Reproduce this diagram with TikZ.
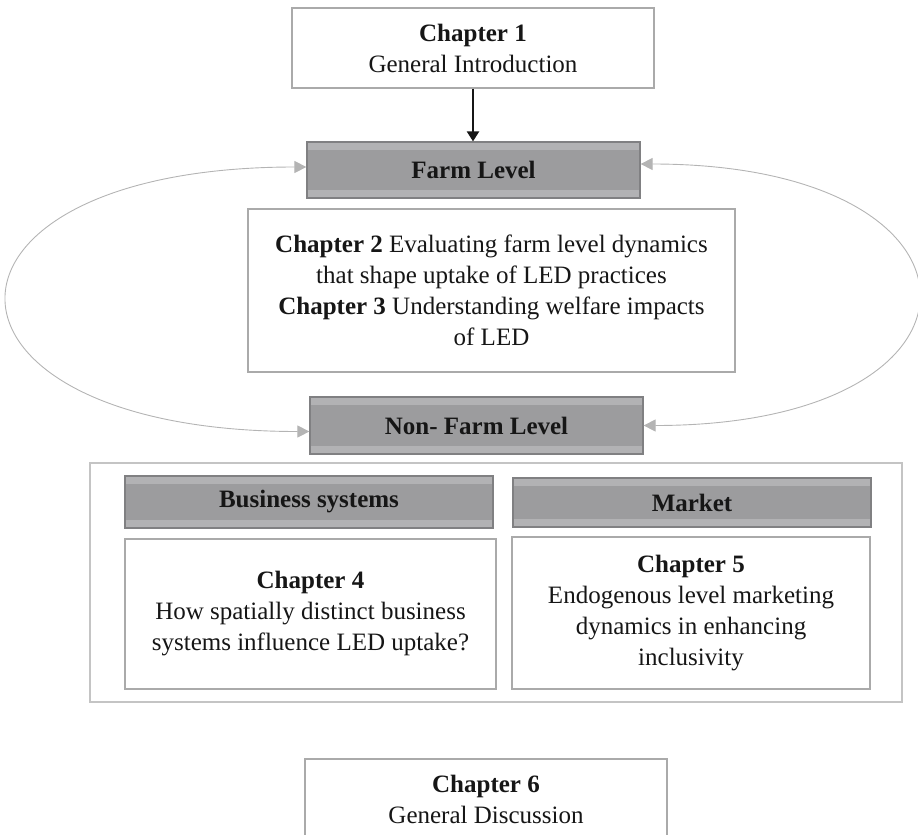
\documentclass[tikz,border=0pt]{standalone}
\usepackage{fontspec}
\setmainfont{Liberation Serif}
\usepackage{xcolor}
\usepackage{tikz}
\usetikzlibrary{arrows.meta}

\definecolor{bandlight}{RGB}{178,178,180}
\definecolor{bandmid}{RGB}{156,156,158}
\definecolor{bandedge}{RGB}{128,128,130}
\definecolor{boxedge}{RGB}{170,170,170}
\definecolor{groupedge}{RGB}{196,196,196}
\definecolor{cyclegray}{RGB}{180,180,180}
\definecolor{ink}{RGB}{22,22,22}

\begin{document}
\begin{tikzpicture}[x=1pt, y=-1pt,
    every node/.style={font=\fontsize{25}{31}\selectfont, text=ink, inner sep=0pt, align=center},
    chap/.style={draw=boxedge, line width=1.4pt, fill=white},
    levelbox/.style={draw=bandedge, line width=1.2pt, fill=bandmid,
        font=\fontsize{25}{31}\selectfont\bfseries,
        path picture={
            \fill[bandlight] (path picture bounding box.north west) rectangle ([yshift=-8pt]path picture bounding box.north east);
            \fill[bandlight] (path picture bounding box.south west) rectangle ([yshift=8pt]path picture bounding box.south east);
        }},
    cycleline/.style={draw=cyclegray, line width=0.9pt, <->, >={Triangle[length=12pt,width=12pt]}}]

    \clip (0,0) rectangle (918,835);

    % chapters and levels
    \node[chap, minimum width=362, minimum height=80] (ch1) at (473,48) {\textbf{Chapter 1}\\General Introduction};
    \node[levelbox, minimum width=333, minimum height=56] (farm) at (473.5,170) {Farm Level};
    \node[chap, minimum width=487, minimum height=163] (ch23) at (491.5,290.5)
        {\textbf{Chapter 2} Evaluating farm level dynamics\\that shape uptake of LED practices\\\textbf{Chapter 3} Understanding welfare impacts\\of LED};
    \node[levelbox, minimum width=333, minimum height=57] (nonfarm) at (476.5,425.5) {Non- Farm Level};

    \node[draw=groupedge, line width=1.8pt, minimum width=812, minimum height=239] (group) at (496,582.5) {};
    \node[levelbox, minimum width=368, minimum height=52] (business) at (309,502) {Business systems};
    \node[levelbox, minimum width=358, minimum height=49] (market) at (692,502.5) {Market};
    \node[chap, minimum width=371, minimum height=150] (ch4) at (310.5,614)
        {\textbf{Chapter 4}\\How spatially distinct business\\systems influence LED uptake?};
    \node[chap, minimum width=358, minimum height=152] (ch5) at (691,613)
        {\textbf{Chapter 5}\\Endogenous level marketing\\dynamics in enhancing\\inclusivity};

    \node[chap, minimum width=362, minimum height=80] (ch6) at (486,799) {\textbf{Chapter 6}\\General Discussion};

    % arrows
    \draw[ink, line width=2.2pt, -{Triangle[length=10pt,width=12pt]}] (ch1.south) -- (ch1.south |- farm.north);
    \draw[cycleline] ([yshift=3pt]farm.west) .. controls +(-400,0) and +(-400,0) .. ([yshift=-6pt]nonfarm.west);
    \draw[cycleline] ([yshift=6pt]farm.east) .. controls +(367,0) and +(367,0) .. (nonfarm.east);
\end{tikzpicture}
\end{document}
